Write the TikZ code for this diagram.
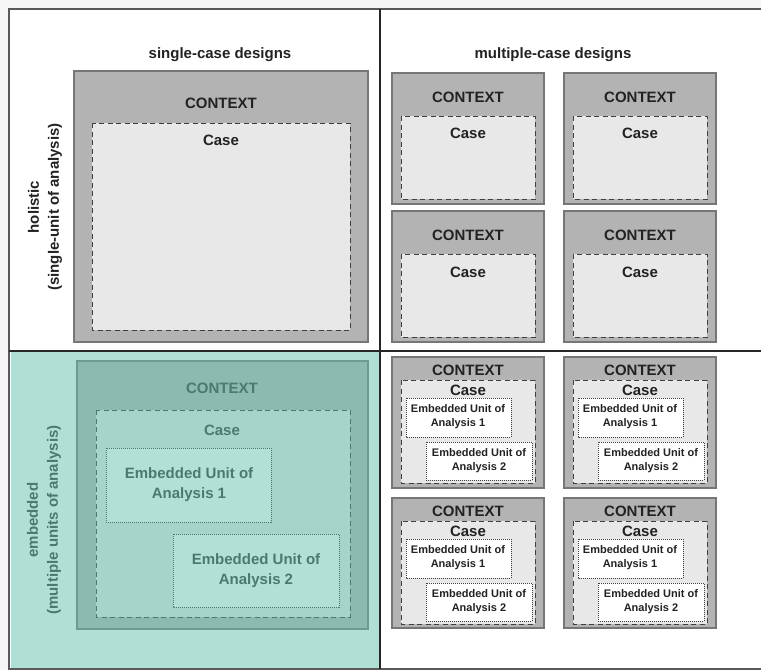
\documentclass[tikz,border=0pt]{standalone}
\usepackage{fontspec}
\setmainfont{Liberation Sans}

\definecolor{ctxgray}{RGB}{179,179,179}
\definecolor{ctxedge}{RGB}{118,118,118}
\definecolor{casegray}{RGB}{232,232,232}
\definecolor{textdark}{RGB}{34,34,34}
\definecolor{tealback}{RGB}{176,223,214}
\definecolor{tealctx}{RGB}{139,187,174}
\definecolor{tealedge}{RGB}{108,156,143}
\definecolor{tealcase}{RGB}{166,212,201}
\definecolor{tealunit}{RGB}{178,224,215}
\definecolor{tealtext}{RGB}{74,122,110}

\begin{document}
\begin{tikzpicture}[x=1pt, y=-1pt,
    frame/.style={draw=black!65, line width=1.6pt},
    divider/.style={draw=black!85, line width=1.8pt},
    ctxbox/.style={fill=ctxgray, draw=ctxedge, line width=1.4pt},
    casebox/.style={fill=casegray, draw=black!75, line width=1pt, dash pattern=on 5pt off 3.5pt},
    unitbox/.style={fill=white, draw=black!75, line width=0.9pt, dash pattern=on 1pt off 1pt},
    tctxbox/.style={fill=tealctx, draw=tealedge, line width=1.4pt},
    tcasebox/.style={fill=tealcase, draw=tealtext, line width=1pt, dash pattern=on 5pt off 3.5pt},
    tunitbox/.style={fill=tealunit, draw=tealtext, line width=0.9pt, dash pattern=on 1pt off 1pt},
    big/.style={font=\fontsize{15}{20}\selectfont\bfseries, text=textdark, align=center, inner sep=0pt},
    small/.style={font=\fontsize{11}{14}\selectfont\bfseries, text=textdark, align=center, inner sep=0pt}]

    % Page and frame
    \fill[black!4] (0,0) rectangle (761,670);
    \useasboundingbox (0,0) rectangle (761,670);
    \fill[white] (9,9) rectangle (761,669);
    \fill[tealback] (11,352) rectangle (379,668);
    \draw[frame] (761,9) -- (9,9) -- (9,669) -- (761,669);
    \draw[divider] (380,9) -- (380,669);
    \draw[divider] (9,351) -- (761,351);

    % Headings
    \node[big] (single) at (220,55) {single-case designs};
    \node[big] (multiple) at (553,55) {multiple-case designs};
    \node[big, rotate=90] (holistic) at (45,207) {holistic\\(single-unit of analysis)};
    \node[big, rotate=90, text=tealtext] (embedded) at (44,520) {embedded\\(multiple units of analysis)};

    % Holistic single case
    \draw[ctxbox] (74,71) rectangle (368,342);
    \node[big] (ctx0) at (221,103) {CONTEXT};
    \draw[casebox] (92,123) rectangle (350,330);
    \node[big] (case0) at (221,140) {Case};

    % Holistic multiple cases
    \draw[ctxbox] (392,73) rectangle (544,204);
    \node[big] (ctx1) at (468,97) {CONTEXT};
    \draw[casebox] (401,116) rectangle (535,199);
    \node[big] (case1) at (468,133) {Case};

    \draw[ctxbox] (564,73) rectangle (716,204);
    \node[big] (ctx2) at (640,97) {CONTEXT};
    \draw[casebox] (573,116) rectangle (707,199);
    \node[big] (case2) at (640,133) {Case};

    \draw[ctxbox] (392,211) rectangle (544,342);
    \node[big] (ctx3) at (468,235) {CONTEXT};
    \draw[casebox] (401,254) rectangle (535,337);
    \node[big] (case3) at (468,272) {Case};

    \draw[ctxbox] (564,211) rectangle (716,342);
    \node[big] (ctx4) at (640,235) {CONTEXT};
    \draw[casebox] (573,254) rectangle (707,337);
    \node[big] (case4) at (640,272) {Case};

    % Embedded single case
    \draw[tctxbox] (77,361) rectangle (368,629);
    \node[big, text=tealtext] (ctx5) at (222,388) {CONTEXT};
    \draw[tcasebox] (96,410) rectangle (350,617);
    \node[big, text=tealtext] (case5) at (222,430) {Case};
    \draw[tunitbox] (106,448) rectangle (271,522);
    \node[big, text=tealtext] (unit5a) at (189,485) {Embedded Unit of\\Analysis 1};
    \draw[tunitbox] (173,534) rectangle (339,607);
    \node[big, text=tealtext] (unit5b) at (256,571) {Embedded Unit of\\Analysis 2};

    % Embedded multiple cases
    \draw[ctxbox] (392,357) rectangle (544,488);
    \node[big] (ctx6) at (468,370) {CONTEXT};
    \draw[casebox] (401,380) rectangle (535,483);
    \node[big] (case6) at (468,390) {Case};
    \draw[unitbox] (406,398) rectangle (511,437);
    \node[small] (unit6a) at (458,417) {Embedded Unit of\\Analysis 1};
    \draw[unitbox] (426,442) rectangle (532,480);
    \node[small] (unit6b) at (479,461) {Embedded Unit of\\Analysis 2};

    \draw[ctxbox] (564,357) rectangle (716,488);
    \node[big] (ctx7) at (640,370) {CONTEXT};
    \draw[casebox] (573,380) rectangle (707,483);
    \node[big] (case7) at (640,390) {Case};
    \draw[unitbox] (578,398) rectangle (683,437);
    \node[small] (unit7a) at (630,417) {Embedded Unit of\\Analysis 1};
    \draw[unitbox] (598,442) rectangle (704,480);
    \node[small] (unit7b) at (651,461) {Embedded Unit of\\Analysis 2};

    \draw[ctxbox] (392,498) rectangle (544,628);
    \node[big] (ctx8) at (468,511) {CONTEXT};
    \draw[casebox] (401,521) rectangle (535,624);
    \node[big] (case8) at (468,531) {Case};
    \draw[unitbox] (406,539) rectangle (511,578);
    \node[small] (unit8a) at (458,558) {Embedded Unit of\\Analysis 1};
    \draw[unitbox] (426,583) rectangle (532,621);
    \node[small] (unit8b) at (479,602) {Embedded Unit of\\Analysis 2};

    \draw[ctxbox] (564,498) rectangle (716,628);
    \node[big] (ctx9) at (640,511) {CONTEXT};
    \draw[casebox] (573,521) rectangle (707,624);
    \node[big] (case9) at (640,531) {Case};
    \draw[unitbox] (578,539) rectangle (683,578);
    \node[small] (unit9a) at (630,558) {Embedded Unit of\\Analysis 1};
    \draw[unitbox] (598,583) rectangle (704,621);
    \node[small] (unit9b) at (651,602) {Embedded Unit of\\Analysis 2};

\end{tikzpicture}
\end{document}
